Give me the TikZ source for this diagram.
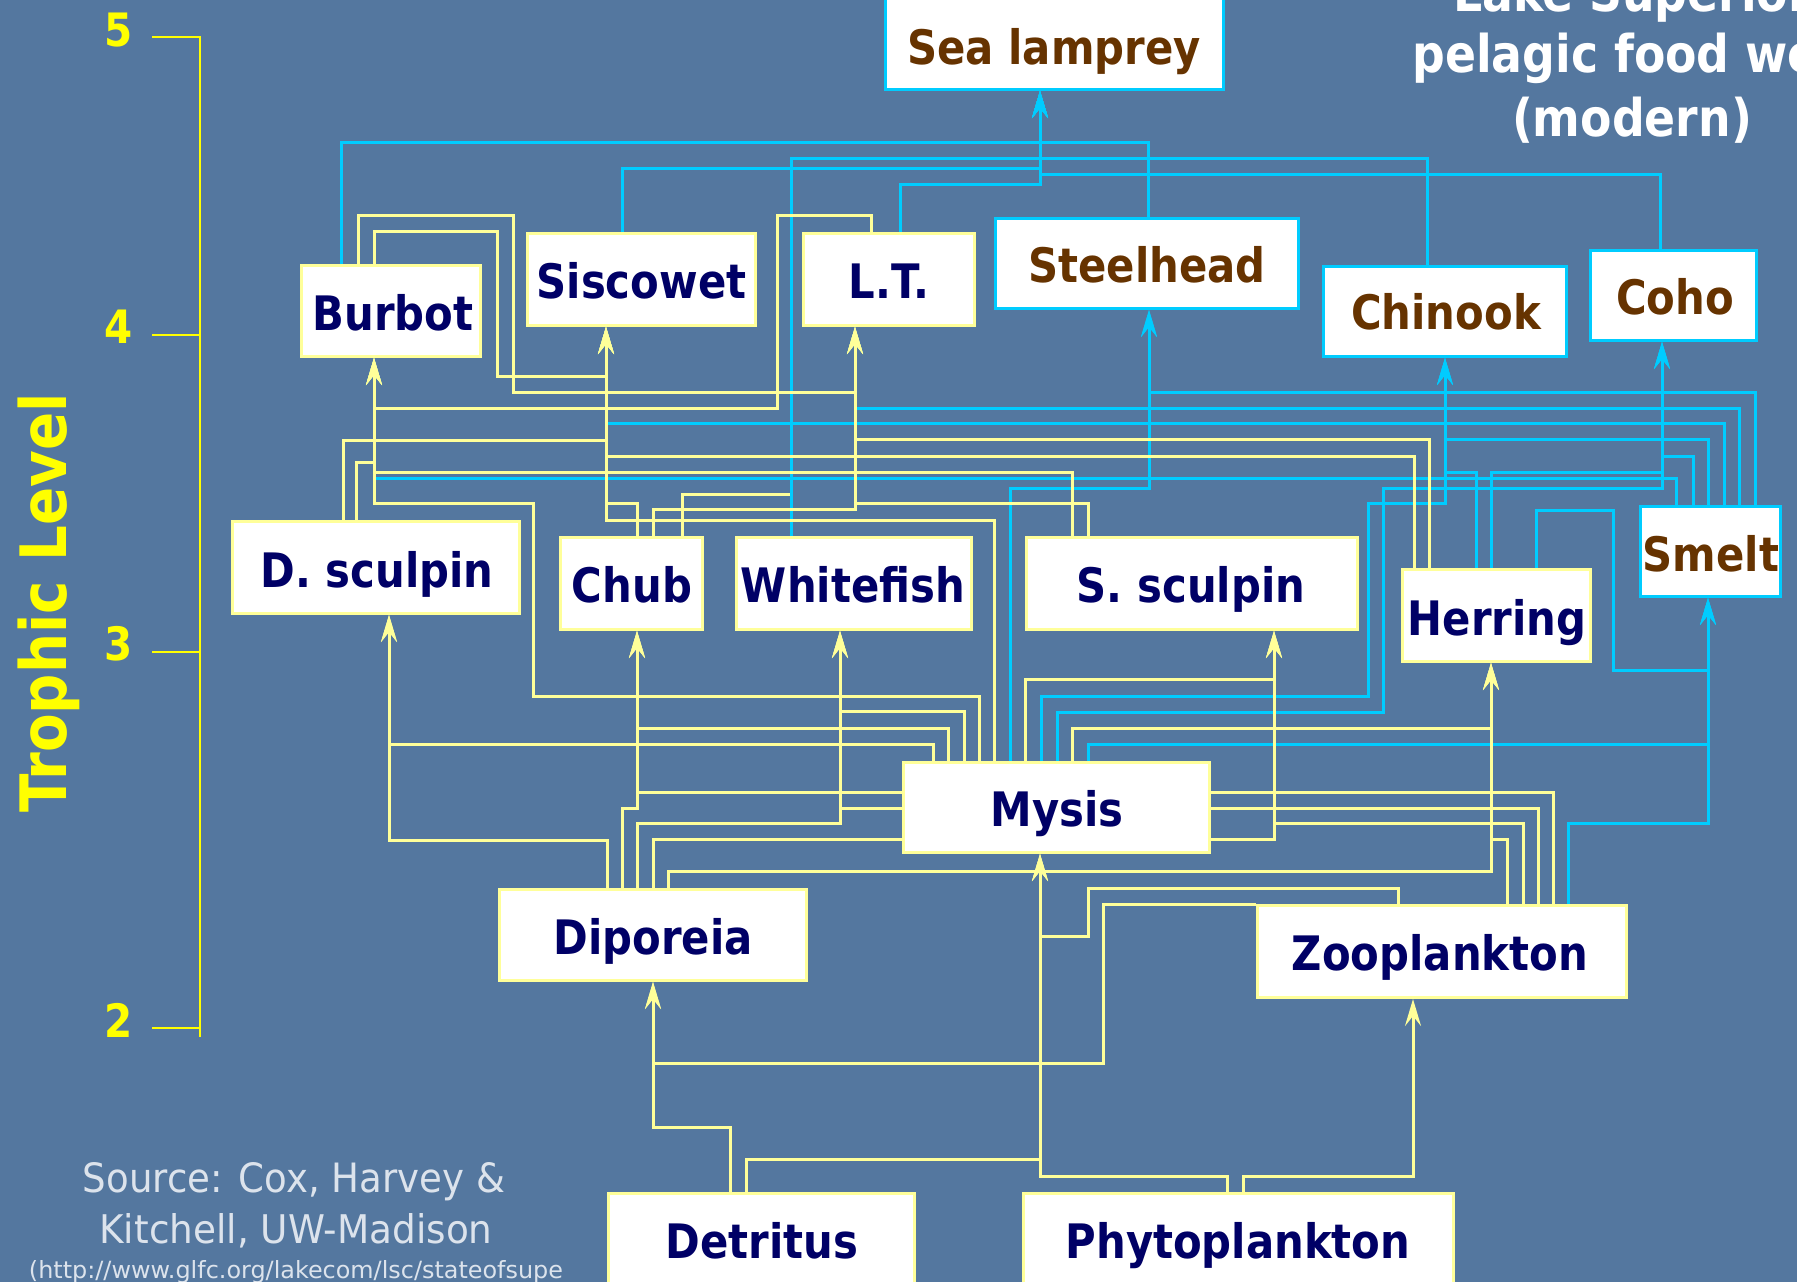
\documentclass[tikz,border=0pt]{standalone}
\usepackage{fontspec}
\usepackage{graphicx}
\usetikzlibrary{arrows.meta}
\newfontfamily\lblfont{DejaVu Sans}[FakeStretch=0.88]
\newfontfamily\srcfont{DejaVu Sans}
\definecolor{bgblue}{HTML}{54779F}
\definecolor{ylw}{HTML}{FFFF99}
\definecolor{cyn}{HTML}{00CCFF}
\definecolor{navytxt}{HTML}{000066}
\definecolor{browntxt}{HTML}{663300}
\definecolor{axisyl}{HTML}{FFFF00}
\definecolor{srcgray}{HTML}{DCE3EC}
\begin{document}
\begin{tikzpicture}[x=1pt,y=-1pt,
  box/.style={draw=#1,fill=white,line width=3pt,inner sep=0pt,rectangle},
  lbl/.style={font=\lblfont\bfseries\fontsize{47.5}{52}\selectfont,inner sep=0pt,anchor=base},
  nat/.style={lbl,text=navytxt},
  exo/.style={lbl,text=browntxt},
  yl/.style={draw=ylw,line width=3pt},
  cy/.style={draw=cyn,line width=3pt},
  arr/.style={-{Stealth[length=27pt,width=16pt,inset=10pt]}},
  num/.style={font=\lblfont\bfseries\fontsize{46}{52}\selectfont,text=axisyl,inner sep=0pt,anchor=base},
  ttl/.style={font=\lblfont\bfseries\fontsize{52}{60}\selectfont,text=white,inner sep=0pt,anchor=base},
  src/.style={font=\srcfont,text=srcgray,inner sep=0pt,anchor=base},
  axisline/.style={draw=axisyl,line width=2.5pt}
]
\useasboundingbox (0,0) rectangle (1797,1282);
\clip (0,0) rectangle (1797,1282);
\fill[bgblue] (0,0) rectangle (1797,1282);

% ---------- boxes ----------
\node[box=cyn,minimum width=338,minimum height=108] (lamprey) at (1054.5,35.5) {};
\node[box=ylw,minimum width=179,minimum height=91] (burbot) at (391,311) {};
\node[box=ylw,minimum width=228,minimum height=92] (sisc) at (641.5,279.5) {};
\node[box=ylw,minimum width=171,minimum height=92] (lt) at (889,279.5) {};
\node[box=cyn,minimum width=303,minimum height=90] (steel) at (1147,263.5) {};
\node[box=cyn,minimum width=243,minimum height=90] (chinook) at (1445,311.5) {};
\node[box=cyn,minimum width=166,minimum height=90] (coho) at (1673.5,295.5) {};
\node[box=cyn,minimum width=140,minimum height=90] (smelt) at (1710.5,551.5) {};
\node[box=ylw,minimum width=287,minimum height=92] (dscul) at (376,567.5) {};
\node[box=ylw,minimum width=142,minimum height=92] (chub) at (631.5,583.5) {};
\node[box=ylw,minimum width=235,minimum height=92] (white) at (854,583.5) {};
\node[box=ylw,minimum width=331,minimum height=92] (sscul) at (1192,583.5) {};
\node[box=ylw,minimum width=188,minimum height=92] (herring) at (1496.5,615.5) {};
\node[box=ylw,minimum width=306,minimum height=90] (mysis) at (1056.5,807.5) {};
\node[box=ylw,minimum width=307,minimum height=91] (dip) at (653,935) {};
\node[box=ylw,minimum width=369,minimum height=92] (zoo) at (1442,951.5) {};
\node[box=ylw,minimum width=306,minimum height=105] (det) at (761.5,1246) {};
\node[box=ylw,minimum width=430,minimum height=105] (phyto) at (1238.5,1246) {};

% ---------- connectors: hidden yellow under cyan ----------
\draw[yl,arr] (chub.north -| 682,0) |- (791,494) |- (1040,158) -- (lamprey.south -| 1040,0);

% ---------- cyan connectors ----------
\draw[cy,arr] (burbot.north -| 341,0) |- (1040,142) -- (lamprey.south -| 1040,0);
\draw[cy,arr] (steel.north -| 1148,0) |- (1040,142) -- (lamprey.south -| 1040,0);
\draw[cy,arr] (white.north -| 791,0) |- (1040,158) -- (lamprey.south -| 1040,0);
\draw[cy,arr] (chinook.north -| 1427,0) |- (1040,158) -- (lamprey.south -| 1040,0);
\draw[cy,arr] (sisc.north -| 622,0) |- (1040,168) -- (lamprey.south -| 1040,0);
\draw[cy,arr] (coho.north -| 1660,0) |- (1040,174) -- (lamprey.south -| 1040,0);
\draw[cy,arr] (lt.north -| 900,0) |- (1040,184) -- (lamprey.south -| 1040,0);
\draw[cy,arr] (smelt.north -| 1755,0) |- (1149,392) -- (steel.south -| 1149,0);
\draw[cy,arr] (smelt.north -| 1739,0) |- (855,408) -- (lt.south -| 855,0);
\draw[cy,arr] (smelt.north -| 1724,0) |- (606,423) -- (sisc.south -| 606,0);
\draw[cy,arr] (smelt.north -| 1708,0) |- (1445,439) -- (chinook.south -| 1445,0);
\draw[cy,arr] (smelt.north -| 1693,0) |- (1662,456) -- (coho.south -| 1662,0);
\draw[cy,arr] (smelt.north -| 1676,0) |- (374,478) -- (burbot.south -| 374,0);
\draw[cy,arr] (herring.north -| 1476,0) |- (1445,472) -- (chinook.south -| 1445,0);
\draw[cy,arr] (herring.north -| 1491,0) |- (1662,472) -- (coho.south -| 1662,0);
\draw[cy,arr] (herring.north -| 1536,0) |- (1613,510) |- (1708,670) -- (smelt.south -| 1708,0);
\draw[cy,arr] (mysis.north -| 1010,0) |- (1149,488) -- (steel.south -| 1149,0);
\draw[cy,arr] (mysis.north -| 1041,0) |- (1368,696) |- (1445,503) -- (chinook.south -| 1445,0);
\draw[cy,arr] (mysis.north -| 1057,0) |- (1383,712) |- (1662,488) -- (coho.south -| 1662,0);
\draw[cy,arr] (mysis.north -| 1088,0) |- (1708,744) -- (smelt.south -| 1708,0);
\draw[cy,arr] (zoo.north -| 1568,0) |- (1708,823) -- (smelt.south -| 1708,0);

% ---------- yellow connectors ----------
\draw[yl,arr] (burbot.north -| 358,0) |- (513,215) |- (855,392) -- (lt.south -| 855,0);
\draw[yl,arr] (burbot.north -| 374,0) |- (497,231) |- (606,376) -- (sisc.south -| 606,0);
\draw[yl,arr] (lt.north -| 871,0) |- (777,215) |- (374,408) -- (burbot.south -| 374,0);
\draw[yl,arr] (dscul.north -| 343,0) |- (606,440) -- (sisc.south -| 606,0);
\draw[yl,arr] (dscul.north -| 356,0) |- (374,462) -- (burbot.south -| 374,0);
\draw[yl,arr] (herring.north -| 1414,0) |- (606,456) -- (sisc.south -| 606,0);
\draw[yl,arr] (herring.north -| 1429,0) |- (855,439) -- (lt.south -| 855,0);
\draw[yl,arr] (sscul.north -| 1072,0) |- (374,472) -- (burbot.south -| 374,0);
\draw[yl,arr] (sscul.north -| 1088,0) |- (855,503) -- (lt.south -| 855,0);
\draw[yl,arr] (chub.north -| 637,0) |- (606,503) -- (sisc.south -| 606,0);
\draw[yl,arr] (chub.north -| 653,0) |- (855,509) -- (lt.south -| 855,0);
\draw[yl,arr] (mysis.north -| 994,0) |- (606,520) -- (sisc.south -| 606,0);
\draw[yl,arr] (mysis.north -| 979,0) |- (533,696) |- (374,503) -- (burbot.south -| 374,0);
\draw[yl,arr] (mysis.north -| 933,0) |- (389,744) -- (dscul.south -| 389,0);
\draw[yl,arr] (mysis.north -| 948,0) |- (637,728) -- (chub.south -| 637,0);
\draw[yl,arr] (mysis.north -| 964,0) |- (840,711) -- (white.south -| 840,0);
\draw[yl,arr] (mysis.west |- 0,792) -| (chub.south -| 637,0);
\draw[yl,arr] (mysis.west |- 0,808) -| (white.south -| 840,0);
\draw[yl] (dip.north -| 653,0) |- (mysis.west |- 0,839);
\draw[yl,arr] (dip.north -| 607,0) |- (389,840) -- (dscul.south -| 389,0);
\draw[yl,arr] (dip.north -| 622,0) |- (637,808) -- (chub.south -| 637,0);
\draw[yl,arr] (dip.north -| 637,0) |- (840,823) -- (white.south -| 840,0);
\draw[yl,arr] (dip.north -| 668,0) |- (1491,871) -- (herring.south -| 1491,0);
\draw[yl,arr] (mysis.north -| 1025,0) |- (1274,679) -- (sscul.south -| 1274,0);
\draw[yl,arr] (mysis.east |- 0,839) -| (sscul.south -| 1274,0);
\draw[yl,arr] (mysis.north -| 1072,0) |- (1491,728) -- (herring.south -| 1491,0);
\draw[yl] (zoo.north -| 1553,0) |- (mysis.east |- 0,792);
\draw[yl] (zoo.north -| 1538,0) |- (mysis.east |- 0,808);
\draw[yl,arr] (zoo.north -| 1523,0) |- (1274,823) -- (sscul.south -| 1274,0);
\draw[yl,arr] (zoo.north -| 1507,0) |- (1491,839) -- (herring.south -| 1491,0);
\draw[yl,arr] (zoo.north -| 1398,0) |- (1088,888) |- (1040,936) -- (mysis.south -| 1040,0);
\draw[yl,arr] (zoo.north west) -- (1103,904) |- (653,1063) -- (dip.south -| 653,0);
\draw[yl,arr] (det.north -| 730,0) |- (653,1127) -- (dip.south -| 653,0);
\draw[yl,arr] (det.north -| 746,0) |- (1040,1159) -- (mysis.south -| 1040,0);
\draw[yl,arr] (phyto.north -| 1227,0) |- (1040,1176) -- (mysis.south -| 1040,0);
\draw[yl,arr] (phyto.north -| 1243,0) |- (1413,1176) -- (zoo.south -| 1413,0);

% ---------- labels ----------
\node[exo] (lamprey-t) at (1054,64) {Sea lamprey};
\node[nat] (burbot-t) at (393,330) {Burbot};
\node[nat] (sisc-t) at (641.5,298) {Siscowet};
\node[nat] (lt-t) at (889,298) {L.T.};
\node[exo] (steel-t) at (1147,282) {Steelhead};
\node[exo] (chinook-t) at (1446,329) {Chinook};
\node[exo] (coho-t) at (1675,314) {Coho};
\node[exo] (smelt-t) at (1711,571) {Smelt};
\node[nat] (dscul-t) at (377,587) {D. sculpin};
\node[nat] (chub-t) at (632,602) {Chub};
\node[nat] (white-t) at (853,602) {Whitefish};
\node[nat] (sscul-t) at (1191,602) {S. sculpin};
\node[nat] (herring-t) at (1497,635) {Herring};
\node[nat] (mysis-t) at (1057,826) {Mysis};
\node[nat] (dip-t) at (653,954) {Diporeia};
\node[nat] (zoo-t) at (1440,970) {Zooplankton};
\node[nat] (det-t) at (762,1258) {Detritus};
\node[nat] (phyto-t) at (1238,1258) {Phytoplankton};

% ---------- title ----------
\node[ttl] (title1) at (1632,12) {Lake Superior};
\node[ttl] (title2) at (1632,72) {pelagic food web};
\node[ttl] (title3) at (1632,136) {(modern)};

% ---------- trophic axis ----------
\draw[axisline] (152,37) -- (200,37) -- (200,1037);
\draw[axisline] (152,335) -- (200,335);
\draw[axisline] (152,652) -- (200,652);
\draw[axisline] (152,1028) -- (200,1028);
\node[num] (n5) at (119,46) {5};
\node[num] (n4) at (119,343) {4};
\node[num] (n3) at (119,660) {3};
\node[num] (n2) at (119,1037) {2};
\node[font=\lblfont\bfseries\fontsize{64}{70}\selectfont,text=axisyl,rotate=90,anchor=base,inner sep=0pt] (tl) at (66,603) {Trophic Level};

% ---------- source ----------
\node[src] (src1) at (294,1192) {\resizebox{422pt}{30pt}{Source: Cox, Harvey \&}};
\node[src] (src2) at (296,1243) {\resizebox{393pt}{30pt}{Kitchell, UW-Madison}};
\node[src] (src3) at (296,1278) {\resizebox{534pt}{18pt}{(http://www.glfc.org/lakecom/lsc/stateofsupe}};
\end{tikzpicture}
\end{document}
